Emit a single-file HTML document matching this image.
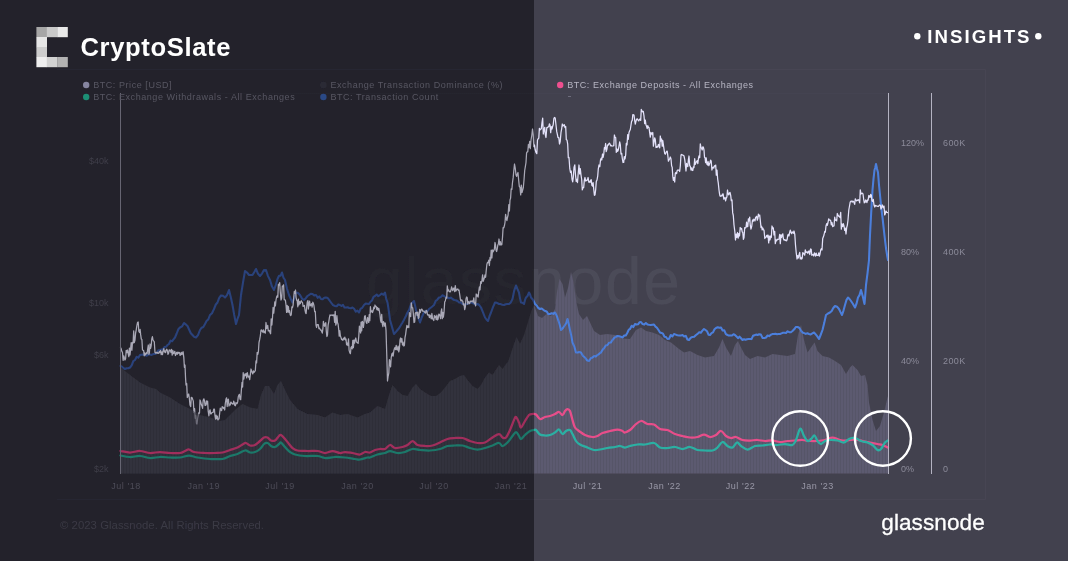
<!DOCTYPE html>
<html lang="en">
<head>
<meta charset="utf-8">
<title>CryptoSlate Insights - Glassnode chart</title>
<style>
html,body{margin:0;padding:0;background:#23222b;}
body{width:1068px;height:561px;overflow:hidden;position:relative;font-family:"Liberation Sans",sans-serif;}
svg{display:block;position:absolute;left:0;top:0;}
text{font-family:"Liberation Sans",sans-serif;}
</style>
</head>
<body>
<svg width="1068" height="561" viewBox="0 0 1068 561">
<defs>

<linearGradient id="g_area" gradientUnits="userSpaceOnUse" x1="0" y1="0" x2="1068" y2="0"><stop offset="0.5" stop-color="#32313c"/><stop offset="0.5" stop-color="#5c5a6f"/></linearGradient>
<linearGradient id="g_price" gradientUnits="userSpaceOnUse" x1="0" y1="0" x2="1068" y2="0"><stop offset="0.5" stop-color="#a9a8b6"/><stop offset="0.5" stop-color="#e4e2fa"/></linearGradient>
<linearGradient id="g_blue" gradientUnits="userSpaceOnUse" x1="0" y1="0" x2="1068" y2="0"><stop offset="0.5" stop-color="#29427c"/><stop offset="0.5" stop-color="#4c7fdc"/></linearGradient>
<linearGradient id="g_pink" gradientUnits="userSpaceOnUse" x1="0" y1="0" x2="1068" y2="0"><stop offset="0.5" stop-color="#a12d5c"/><stop offset="0.5" stop-color="#e84e8a"/></linearGradient>
<linearGradient id="g_teal" gradientUnits="userSpaceOnUse" x1="0" y1="0" x2="1068" y2="0"><stop offset="0.5" stop-color="#1a7869"/><stop offset="0.5" stop-color="#2bb0a3"/></linearGradient>
<linearGradient id="g_axis" gradientUnits="userSpaceOnUse" x1="0" y1="0" x2="1068" y2="0"><stop offset="0.5" stop-color="#666572"/><stop offset="0.5" stop-color="#b4b3c2"/></linearGradient>
<linearGradient id="g_border" gradientUnits="userSpaceOnUse" x1="0" y1="0" x2="1068" y2="0"><stop offset="0.5" stop-color="#272630"/><stop offset="0.5" stop-color="#464552"/></linearGradient>
<linearGradient id="g_wm" gradientUnits="userSpaceOnUse" x1="0" y1="0" x2="1068" y2="0"><stop offset="0.5" stop-color="#26252e"/><stop offset="0.5" stop-color="#4c4b59"/></linearGradient>

<filter id="soft" filterUnits="userSpaceOnUse" x="0" y="0" width="1068" height="561"><feGaussianBlur stdDeviation="0.45"/></filter>
<clipPath id="areaclip"><polygon points="120.5,473.5 120.5,367.5 130,375 140,382.5 150,387.5 156,389 160,392.5 170,397.5 180,404 190,409 200,415 210,417.5 220,421 225,420 235,410 242.5,404 250,407.5 257.5,409 261,395 265,386 269,386 274,394 277.5,385 281,381 285,390 290,400 297.5,409 307.5,414 317.5,415 325,417.5 332.5,412.5 340,415 347.5,414 357.5,417.5 365,414 370,412.5 377.5,406 385,409 389,395 392.5,385 397.5,391 402.5,395 407.5,396 412.5,387.5 416,384 420,389 425,392.5 431,396 436,396 441,392.5 445,387.5 450,381 455,379 460,376 464,375 467.5,380 472.5,386 477.5,389 481,385 485,377.5 489,372.5 492.5,375 495,371 499,365 502.5,369 506,364 508,362 512,350 516.5,337 520,344 524,335 528,322 531.5,310.5 534,305 538,316 542,318 546.5,314 551,316 555,309 557,292 559.5,279 562.5,284 565,297.5 568,288 571,272 573.5,282.5 576.5,303 579,314 583,320 587,316 590.5,323.5 594,331 600,335 607,334 615,335 622,338.5 630,339 636,330 641,327.5 646,331 652.5,332.5 659,335 665,340 671,342.5 679,349 684,352.5 690,351 697.5,355 705,357.5 714,356 719,347.5 722.5,339 726,347.5 731,356 735,345 738,341 741,347.5 745,355 750,359 757.5,356 765,357.5 772.5,354 780,355 787.5,356 795,354 798,335 801,325 804,340 807.5,352.5 811,347.5 814.5,342.5 817.5,351 822.5,356 829,357.5 835,361 841,365 846,374 850,367.5 852.5,365 857.5,370 861,376 865,375 867.5,385 869,402.5 872.5,420 876,431 880,426 884,412.5 887.5,397.5 888.5,395 888.5,473.5"/></clipPath>
<pattern id="bars" patternUnits="userSpaceOnUse" x="120" y="0" width="3" height="10">
<rect x="0" y="0" width="1" height="10" fill="#000000" fill-opacity="0.06"/>
</pattern>
</defs>

<rect x="0" y="0" width="534" height="561" fill="#23222b"/>
<rect x="534" y="0" width="534" height="561" fill="#42414e"/>
<g filter="url(#soft)">
<path d="M57,69.5H985.5V499.5H57" fill="none" stroke="url(#g_border)" stroke-width="1"/>
<line x1="120" y1="93.5" x2="889" y2="93.5" stroke="url(#g_border)" stroke-width="1" stroke-opacity="0.6"/>
<text x="366" y="304" font-size="66" fill="url(#g_wm)" textLength="314" lengthAdjust="spacing">glassnode</text>
<polygon points="120.5,473.5 120.5,367.5 130,375 140,382.5 150,387.5 156,389 160,392.5 170,397.5 180,404 190,409 200,415 210,417.5 220,421 225,420 235,410 242.5,404 250,407.5 257.5,409 261,395 265,386 269,386 274,394 277.5,385 281,381 285,390 290,400 297.5,409 307.5,414 317.5,415 325,417.5 332.5,412.5 340,415 347.5,414 357.5,417.5 365,414 370,412.5 377.5,406 385,409 389,395 392.5,385 397.5,391 402.5,395 407.5,396 412.5,387.5 416,384 420,389 425,392.5 431,396 436,396 441,392.5 445,387.5 450,381 455,379 460,376 464,375 467.5,380 472.5,386 477.5,389 481,385 485,377.5 489,372.5 492.5,375 495,371 499,365 502.5,369 506,364 508,362 512,350 516.5,337 520,344 524,335 528,322 531.5,310.5 534,305 538,316 542,318 546.5,314 551,316 555,309 557,292 559.5,279 562.5,284 565,297.5 568,288 571,272 573.5,282.5 576.5,303 579,314 583,320 587,316 590.5,323.5 594,331 600,335 607,334 615,335 622,338.5 630,339 636,330 641,327.5 646,331 652.5,332.5 659,335 665,340 671,342.5 679,349 684,352.5 690,351 697.5,355 705,357.5 714,356 719,347.5 722.5,339 726,347.5 731,356 735,345 738,341 741,347.5 745,355 750,359 757.5,356 765,357.5 772.5,354 780,355 787.5,356 795,354 798,335 801,325 804,340 807.5,352.5 811,347.5 814.5,342.5 817.5,351 822.5,356 829,357.5 835,361 841,365 846,374 850,367.5 852.5,365 857.5,370 861,376 865,375 867.5,385 869,402.5 872.5,420 876,431 880,426 884,412.5 887.5,397.5 888.5,395 888.5,473.5" fill="url(#g_area)"/>
<polyline points="120.5,366 122,366.6 123.5,368.1 125,369 126.7,368.2 128.3,368.3 130,367.5 131.7,365.4 133.3,361.1 135,360 136.7,356.8 138.3,357.7 140,355 141.7,354.7 143.3,354.6 145,355 146.7,355.7 148.3,354.6 150,354.5 151.7,354.9 153.3,354.1 155,354 156.7,353.1 158.3,350.2 160,350 161.5,349.4 163,349.2 164.5,347.1 166,346.8 167.5,345 169,344 170.5,340.6 172,341.3 173.5,339.3 175,337.5 176.7,333.5 178.3,329.3 180,327.5 182,326.4 184,323 185.8,324.4 187.5,326 189.2,329.7 190.8,333.2 192.5,335 194.2,336.9 196,337.5 198,335.1 200,330 201.7,327.7 203.3,327 205,324 206.7,320.8 208.3,319.4 210,315 212,313.2 214,309 215.8,304.5 217.5,302.5 219.2,297.8 221,295.5 223,295.8 225,297.5 227,295.2 229,290 230.8,297.3 232.5,305 234.2,314.9 236,324 237.5,318.9 239,315 240,305 241,295 243,282.6 245,271 247,272.5 249,275 250.8,275.1 252.5,275 254.2,272.3 256,269 258,273.8 260,276 262,273.6 264,270 265,270.6 266,270 268,276.1 270,280 272,286.6 274,290 275.8,285 277.5,279 279,275.8 280.5,275.8 282,272.5 283.5,277.7 285,280 287,288.8 289,295 290.8,299 292.5,302.5 294.2,298.2 296,292.5 298,293 300,295 302,298.6 304,300 305.8,298.2 307.5,296 309.2,294.9 310.8,293.7 312.5,294 314.2,295.4 316,295 317.7,297.8 319.3,296.4 321,299 322.7,299.3 324.3,297.8 326,297.5 327.7,298 329.3,300.2 331,302.5 333,305.1 335,306 336.7,306.3 338.3,304.5 340,305 341.5,306 343,304.9 344.5,307.5 346,307.5 347.6,307.3 349.2,308 350.9,308.2 352.5,307.5 354.1,308.8 355.8,311.6 357.4,310.6 359,312.5 360.7,308.6 362.3,307.8 364,305 365.7,303.6 367.3,303.7 369,304 370.5,301.7 372,300.4 373.5,296.9 375,296 376.7,294.5 378.3,296.3 380,295 381.7,293.6 383.3,294.8 385,292.5 386.2,298.8 387.5,302.5 388.8,310.9 390,320 392,326.9 394,334 395.8,332.1 397.5,330 399.2,328 400.8,325.3 402.5,322.5 404.2,319.4 405.8,316.2 407.5,312.5 409.2,309.7 411,304 412.5,302.5 414,301 415,305.3 416,310 418,317 420,322.5 422,316.7 424,312.5 425.7,310.8 427.3,311.5 429,309 430.7,307.7 432.3,306.5 434,305 435.7,300.9 437.3,299.7 439,297.5 440.7,297.2 442.3,295.3 444,296 445.8,297.1 447.5,297.5 449.2,298.3 450.8,297.6 452.5,299 454.2,300 455.8,300.2 457.5,301 459.2,302.6 460.8,302.5 462.5,304 464.2,304.3 465.8,304.3 467.5,304 469.2,302.6 470.8,302.4 472.5,303 474.2,303.7 475.8,304.7 477.5,304 479.2,305 481,307.5 483,312.4 485,317.5 486.5,319.5 488,321 489.5,316.2 491,312.5 493,307.1 495,302.5 497,302.8 499,304 500.7,304.1 502.3,304.8 504,305 505.7,304.2 507.3,304.1 509,304 510.8,302.4 512.5,299 514.2,290.7 516,285.5 517.5,289.2 519,292.5 520,298.3 521,302.5 522.5,302.8 524,304 525,299.9 526,297.5 527.5,296 529,292.5 530,294.2 531,297.5 533,299.7 535,304 536.7,305.5 538.3,308 540,309 541.7,308.5 543.3,309.8 545,311 546.7,311.5 548.3,314.1 550,314 551.7,313.3 553.3,313.9 555,312.5 557,316.4 559,322.5 560,325.7 561,330 563,328 565,325 566.2,323.2 567.5,319 568.8,324.3 570,330 571.2,335.4 572.5,342.5 574.2,346.3 576,352.5 577.7,352.5 579.3,352.1 581,352.5 583,356 585,357.5 587,360.3 589,361 590.8,358.2 592.5,357.5 594.2,356.1 595.8,356.6 597.5,355 599.2,353.8 600.8,352.6 602.5,350 604.2,347.8 605.8,345.5 607.5,345 609.2,342.7 610.8,342.6 612.5,340 614.2,337.9 615.8,336.8 617.5,336 619.2,336.3 620.8,336.8 622.5,337.5 624.2,335.5 625.8,335.5 627.5,332.5 628.8,329.6 630,329 631.7,325.7 633.3,327.1 635,324 636.5,324.5 638,324.3 639.5,322.3 641,322 642.6,324.1 644.2,324.6 645.9,323 647.5,324.5 649.1,324.8 650.8,325 652.4,324.7 654,324.5 655.5,326.6 657,327.8 658.5,330 660,332.5 661.5,332.9 663,333.7 664.5,336.7 666,337 667.5,339 669.1,338.7 670.8,335 672.4,336.5 674,334 675.7,334.6 677.4,335.3 679.1,335.4 680.8,335.6 682.5,335 684.1,336.5 685.8,335.9 687.4,339.5 689,340 690.8,337.7 692.5,336.9 694.2,336.8 696,335 697.6,333.9 699.2,332.3 700.8,332.8 702.4,330.6 704,329 705.5,330 707,331.2 708.5,334.7 710,335 711.5,333.2 713,332.4 714.5,329.3 716,328 717.7,327.2 719.3,327.7 721,327.5 722.6,330.4 724.2,330.2 725.9,334.1 727.5,335 729,335.6 730.5,335.4 732,335.5 733.5,334.3 735,335 736.5,336.4 738,338.2 739.5,336.6 741,338.3 742.5,340 744,339.2 745.5,339.7 747,339.2 748.5,339.1 750,339 751.5,339.1 753,335.8 754.5,335.2 756,334.6 757.5,335 759.2,334.3 760.9,334.6 762.6,338 764.3,338.1 766,337.5 767.6,335.5 769.2,336.1 770.8,334.8 772.4,334.1 774,334 775.5,333.8 777,334.2 778.5,334.1 780,334 781.5,333.4 783,332.8 784.5,332.8 786,333 787.6,331.3 789.2,332.2 790.9,332.2 792.5,331 794.2,329.3 795.8,327 797.5,327 799.2,327.8 800.8,330.3 802.5,332.5 804.1,333.1 805.8,333.9 807.4,333.3 809,334 810.7,334.5 812.3,333.4 814,332.5 815.7,334.4 817.3,336.4 819,339 820.8,334.5 822.5,330 824.2,323.1 826,315 828,313.5 830,312.5 831.7,311 833.3,308 835,306 837,306.7 839,309 840.5,312.1 842,315 843.5,310.6 845,305 846.5,299.9 848,297.5 849.5,299 851,301 853,304 855,307.5 856.5,303.7 858,297.5 859.5,295.1 861,290 862.8,296.6 864.5,304 865.2,295.8 866,285 867.5,273.4 869,260 869.5,246.7 870,235 871.2,212.4 872.5,190 873.5,178.8 874.5,170 875.2,168 876,164 877,168.8 878,172.5 879,185 880,195 881.2,207.2 882.5,217.5 883.8,229.3 885,240 886.2,249.5 887.5,257.5 887.8,259 888,260" fill="none" stroke="url(#g_blue)" stroke-width="2.05" stroke-linejoin="round" stroke-linecap="round" stroke-opacity="1"/>
<polyline points="120.5,347.5 121.2,348.8 121.8,351.3 122.5,352.5 123.1,360.3 123.8,355.8 124.4,358.2 125,360 125.6,358.8 126.2,350.3 126.9,352.7 127.5,350 128.1,353.1 128.8,356.6 129.4,348.1 130,355 130.6,348.9 131.2,342.6 131.9,350.3 132.5,342.5 133.1,343 133.7,330.9 134.3,342.7 135,340 135.6,333 136.2,330.1 136.8,326 137.5,322.5 138.2,322 138.8,331.3 139.5,332.5 140.1,329.4 140.7,334.9 141.3,339.1 141.9,339.5 142.5,350 143.1,350.3 143.7,350.7 144.2,355.8 144.8,352.9 145.4,354.9 146,354 146.6,352.6 147.1,353.6 147.7,349.1 148.3,345 148.9,354.3 149.4,352.9 150,344 150.6,348.3 151.2,345.5 151.8,338.8 152.4,336.7 153,340 153.7,341 154.3,341.9 155,352.5 155.6,353 156.2,352.3 156.9,353.2 157.5,352.3 158.1,353.4 158.8,353.2 159.4,351.5 160,352.5 160.6,350.5 161.2,354.7 161.9,351.8 162.5,354.7 163.1,350.9 163.8,348.7 164.4,352 165,351 165.6,352.7 166.2,350 166.8,349.2 167.4,350.7 168,354.3 168.6,353.3 169.2,349.9 169.8,350.8 170.4,350.2 171,352.5 171.6,349.4 172.2,355.1 172.9,350.7 173.5,353.7 174.1,353 174.8,351.3 175.4,355.5 176,354 176.6,352.4 177.2,354.4 177.8,352.1 178.4,353.3 179,352.4 179.5,352.5 180.1,355.3 180.7,354.5 181.3,352.4 181.9,354.7 182.5,353 183.1,351.7 183.8,357.4 184.4,367.3 185,365 185.5,377.1 186,385 186.7,383.5 187.3,397.5 188,395 188.7,394 189.3,398 190,405 190.7,406.6 191.3,397.4 192,397.5 192.7,399.4 193.3,401.1 194,412.5 194.6,408.7 195.2,418.3 195.8,415.5 196.4,423.2 197,424 197.7,418.2 198.3,415.6 199,412.5 199.5,413.1 200,400 200.7,401.9 201.3,404.6 202,406 202.6,408.4 203.2,400.3 203.9,398.8 204.5,401 205.1,405.5 205.8,405.4 206.4,400.9 207,404 207.6,401.1 208.2,411.1 208.9,415.9 209.5,411 210.1,409.8 210.7,413.9 211.3,413.8 211.9,412.7 212.5,412.5 213.1,412.3 213.8,409 214.4,409 215,416 215.6,419.4 216.1,415.2 216.7,418.6 217.3,416.1 217.9,420.2 218.4,419.2 219,419 219.7,412.9 220.3,408.1 221,410 221.6,410.7 222.2,406.7 222.8,407.1 223.4,408.3 224,407.5 224.7,410 225.3,403.5 226,399 226.6,397.9 227.2,406.5 227.8,399.8 228.4,399.1 229,406 229.6,404.1 230.2,405 230.8,402.1 231.3,402.5 231.9,403.5 232.5,404 233.1,404.2 233.7,401.2 234.2,402.4 234.8,405.5 235.4,405.8 236,402.5 236.6,403.7 237.1,403.6 237.7,401.9 238.3,396.6 238.9,395 239.4,394.3 240,399 240.7,399.7 241.3,391 242,382.5 242.6,387 243.2,372.7 243.8,379.2 244.4,375.5 245,374 245.6,375.7 246.1,373.5 246.7,377.9 247.3,372.6 247.9,375.7 248.4,377.1 249,376 249.7,379.7 250.3,374.9 251,369 251.6,371.1 252.2,372.4 252.8,373.9 253.4,370.8 254,372.5 254.7,371.4 255.3,370.8 256,361 256.6,362.9 257.2,352.4 257.8,354.3 258.4,351.7 259,342.5 259.7,339.4 260.3,336 261,330 261.6,329.9 262.2,331.4 262.8,332.1 263.4,329.8 264,332.5 264.7,331.3 265.3,333.2 266,322.5 266.6,328.5 267.1,328.1 267.7,325.4 268.3,331 268.9,330.6 269.4,330.4 270,332.5 270.6,333.8 271.2,318.8 271.9,325 272.5,317.5 273.1,307.5 273.7,313.2 274.2,308.5 274.8,301.8 275.4,305.9 276,300 276.6,297 277.2,295.7 277.8,297.3 278.4,284.3 279,285 279.7,282.7 280.3,292 281,300 281.7,298 282.3,286.2 283,286 283.6,284.8 284.2,299.7 284.8,299.8 285.4,300.3 286,305 286.6,312.4 287.2,305.4 287.8,312 288.4,306.5 289,312.5 289.6,310.7 290.2,314.9 290.8,315.6 291.3,314.3 291.9,306.8 292.5,307.5 293.1,305.2 293.7,297.7 294.3,291.5 294.9,293.4 295.5,290 296.1,297.6 296.7,300.2 297.2,300.7 297.8,306.8 298.4,299.2 299,305 299.6,301.6 300.2,303.7 300.8,301.7 301.3,300.7 301.9,302.1 302.5,302.5 303.1,306.3 303.8,306.2 304.4,305.4 305,310 305.6,312.9 306.1,313.6 306.7,306.9 307.3,301.9 307.9,300.6 308.4,309 309,304 309.6,301.1 310.2,305.9 310.9,305.2 311.5,303.7 312.1,307.2 312.8,302.2 313.4,303.3 314,306 314.7,311.7 315.3,311.5 316,325 316.6,327.5 317.1,324.6 317.7,324.6 318.3,324.6 318.9,328.6 319.4,328.1 320,329 320.6,330.2 321.1,330 321.7,331.6 322.3,333.1 322.9,328.7 323.4,321.4 324,325 324.6,326.3 325.2,323.5 325.8,322.7 326.3,331.2 326.9,336.5 327.5,335 328.1,325.2 328.8,321.6 329.4,317.7 330,315 330.6,315.4 331.1,315 331.7,315.2 332.3,315.5 332.9,314.8 333.4,315.6 334,315 334.6,322.3 335.2,311.3 335.8,325.2 336.3,323.3 336.9,315.7 337.5,322.5 338.1,324.3 338.7,329.4 339.2,336.1 339.8,330.7 340.4,336 341,337.5 341.6,339.6 342.2,339.4 342.9,340.3 343.5,338.1 344.1,339.2 344.8,337.1 345.4,339.9 346,339 346.6,344.8 347.2,343.2 347.9,345.5 348.5,338.9 349.1,350.3 349.8,352.6 350.4,353.6 351,347.5 351.6,346.6 352.2,348.9 352.8,340.3 353.4,347.6 354,340 354.6,343.2 355.2,339.7 355.8,338 356.3,341.2 356.9,342.5 357.5,342.5 358.1,343.4 358.8,336.1 359.4,326.1 360,330 360.6,333 361.1,322.1 361.7,330.8 362.3,321.4 362.9,322.5 363.4,327.4 364,322.5 364.6,316.3 365.2,315.6 365.8,320.2 366.3,322.5 366.9,323.4 367.5,317.5 368.1,319.4 368.7,322.4 369.2,314.6 369.8,320.6 370.4,306.7 371,312 371.8,310.8 372.5,312.5 373.1,310.8 373.8,307.1 374.4,308.7 375,305 375.6,306.7 376.2,306.4 376.9,309.6 377.5,307.5 378.1,310.3 378.8,308.4 379.4,311.3 380,315 380.6,320.6 381.1,322.4 381.7,314.3 382.3,323.9 382.9,326.6 383.4,321.7 384,322.5 384.7,326.1 385.3,323 386,330 386.8,356 387.5,381 388.1,376.3 388.8,373.1 389.4,359.7 390,362 390.6,366.8 391.2,357.7 391.9,353.8 392.5,353 393.1,356.1 393.8,351.2 394.4,348.7 395,347.5 395.6,349.7 396.2,345.3 396.9,349.7 397.5,350 398.1,346.2 398.8,351.9 399.4,348.9 400,340 400.6,338 401.2,342.1 401.9,338.5 402.5,345 403.1,342.1 403.8,346 404.4,345.4 405,337.5 405.6,334.6 406.2,329.8 406.9,325.4 407.5,327.5 408.1,326.1 408.8,327.6 409.4,312.6 410,315 410.7,316.7 411.3,302.8 412,307.5 412.7,307.9 413.3,313.4 414,322.5 414.7,322 415.3,313.2 416,312.5 416.6,312.2 417.2,315.5 417.8,312.1 418.4,318.5 419,317.5 419.7,309.3 420.3,312.7 421,310 421.6,309.2 422.1,309.4 422.7,311.2 423.3,311.1 423.9,311.2 424.4,311.8 425,312.5 425.6,313 426.2,310.4 426.9,311.1 427.5,314.8 428.1,315.2 428.8,314.6 429.4,317.5 430,315 430.6,316.3 431.2,318.8 431.9,313.5 432.5,318.4 433.1,319.4 433.8,320.5 434.4,315.5 435,317.5 435.6,316.2 436.2,319.7 436.9,315.2 437.5,319.8 438.1,319 438.8,314.1 439.4,314.6 440,316 440.6,318.7 441.1,311.6 441.7,308.8 442.3,318.7 442.9,312.4 443.4,317.1 444,312.5 444.7,301.9 445.3,301 446,297.5 446.7,298.1 447.3,285.9 448,291 448.6,289.8 449.2,291.2 449.8,291.8 450.4,291.8 451,290 451.6,286.8 452.2,289.2 452.8,290.7 453.4,288.4 454,288 454.7,291.6 455.3,285.6 456,291 456.6,289.4 457.2,289.3 457.8,288.9 458.4,290.4 459,290 459.8,295.2 460.5,300 461.1,301 461.7,299.8 462.2,300.6 462.8,301.4 463.4,304.8 464,304 464.7,309.7 465.3,307.1 466,299 466.6,297 467.2,297.5 467.8,304.1 468.4,301.5 469,302.5 469.6,303.7 470.2,301.1 470.8,301.6 471.3,301.6 471.9,300.9 472.5,301 473.1,302.2 473.8,297.9 474.4,303.7 475,302.5 475.6,305.8 476.2,294 476.9,296.2 477.5,295 478.1,297.1 478.8,291.2 479.4,287 480,290 480.7,281.6 481.3,283.5 482,280 482.6,274.8 483.2,281.4 483.8,279.6 484.4,277.8 485,275 485.6,277.3 486.2,270.7 486.9,264.2 487.5,262.5 488.1,262.6 488.8,260.1 489.4,265.5 490,257.5 490.6,260.2 491.2,250.1 491.9,258 492.5,250 493.1,251.8 493.8,250.4 494.4,249.1 495,242.5 495.5,244.8 496,250 496.6,251.5 497.2,249.1 497.8,245.2 498.4,243.7 499,239 499.7,245 500.3,241.6 501,245 501.8,244.6 502.5,237.5 503.1,227.7 503.8,227.8 504.4,225.8 505,222.5 505.6,214.4 506.2,218 506.9,220.7 507.5,217.5 508.1,215 508.8,204.7 509.4,211 510,200 510.6,198.1 511.2,188.8 511.9,189.3 512.5,182.5 513.2,177.4 513.8,170.7 514.5,164 515.2,167.8 516,175 516.7,176.4 517.3,174 518,172.5 518.7,180.5 519.3,186.4 520,187.5 520.7,194.9 521.3,185.1 522,192.5 522.7,190.1 523.3,187.7 524,180 524.7,170.5 525.3,166.9 526,162.5 526.6,152.8 527.2,151.9 527.8,151.6 528.4,144.5 529,147.5 529.7,141.3 530.3,148.6 531,140 531.8,135.3 532.5,129 533.2,134.5 533.8,146.7 534.5,145 535.2,149.8 536,152.5 536.8,153.7 537.5,140 538.1,138.9 538.8,138.1 539.4,128.3 540,130 540.7,129 541.3,128.9 542,122.5 542.7,118.2 543.3,134 544,130 544.7,127.4 545.3,134.6 546,137.5 546.8,127.5 547.5,127.5 548.1,126.9 548.8,126.7 549.4,123.9 550,125 550.7,132.6 551.3,126.6 552,129 552.6,126.5 553.2,124.7 553.9,118.4 554.5,117.5 555.2,118 556,125 556.7,131.4 557.3,134.2 558,137.5 558.8,137.5 559.5,144 560.2,141.5 561,132.5 561.7,128.6 562.3,124 563,126 563.7,125.2 564.3,124.7 565,127.5 565.7,126.5 566.3,139.7 567,140 567.7,144.2 568.3,157.6 569,157.5 569.8,168.7 570.5,172.5 571.2,171 572,179 572.7,181.8 573.3,177.3 574,167.5 574.8,164.9 575.5,175 576.2,181.4 576.8,179.3 577.5,182.5 578.2,173.4 579,165 579.7,174 580.3,168.6 581,175 581.7,179.5 582.3,189.9 583,187.5 583.7,187.5 584.3,180.4 585,177.5 585.6,181 586.2,180.7 586.9,180 587.5,180 588.1,177.5 588.8,182.2 589.4,181.5 590,182.5 590.6,180.3 591.2,179.6 591.9,185.4 592.5,186 593.1,182.6 593.8,189.6 594.4,195.3 595,195 595.7,189.3 596.3,181.4 597,180 597.7,176.2 598.3,168.8 599,165 599.8,166.7 600.5,160 601.2,158.2 601.8,160 602.5,154 603.1,157.3 603.8,153.8 604.4,147.6 605,149 605.6,143.5 606.2,151.6 606.9,149.3 607.5,145 608.1,145.3 608.8,143.9 609.4,143.2 610,144 610.6,145.8 611.2,145.4 611.9,146.1 612.5,146 613.1,145.9 613.8,145.6 614.4,135 615,137.5 615.7,137.6 616.3,152.4 617,149 617.7,151.3 618.3,150 619,146 619.7,141.8 620.3,144.7 621,154 621.7,153.4 622.3,158.5 623,162.5 623.7,162.4 624.3,156.6 625,159 625.7,155 626.3,143.3 627,145 627.7,134.6 628.3,139.3 629,132.5 629.7,130.8 630.3,129.5 631,125 631.6,121.1 632.2,120.7 632.8,114.7 633.4,114.7 634,115 634.7,120.7 635.3,124.1 636,121 636.7,119 637.3,118.8 638,120 638.7,120.9 639.3,119.8 640,119 640.7,120.4 641.3,109.4 642,111 642.7,111.8 643.3,111.4 644,116 644.7,123.6 645.3,120 646,125 646.6,126.3 647.2,128.6 647.8,125.6 648.4,127.3 649,127.5 649.7,132.9 650.3,137.1 651,132.5 651.6,133.4 652.2,134.5 652.8,132.5 653.4,146.1 654,142.5 654.7,137.8 655.3,139.6 656,147.5 656.6,147.3 657.2,146.4 657.8,147 658.4,144.4 659,145 659.7,147.8 660.3,136 661,141 661.6,139 662.2,146.3 662.8,140.5 663.4,144.9 664,149 664.7,153.5 665.3,154.2 666,152.5 666.6,151.4 667.2,151.2 667.8,155.3 668.4,161.2 669,160 669.7,158.9 670.3,157 671,159 671.6,165.8 672.2,167.4 672.8,176.4 673.4,180.4 674,177.5 674.7,182 675.3,173.2 676,172.5 676.6,173.6 677.2,170.5 677.8,170 678.4,170 679,170 679.7,171.5 680.3,165.9 681,155 681.6,154.4 682.2,154.9 682.8,155.2 683.4,155.3 684,156 684.7,159.4 685.3,164.3 686,171 686.6,163.4 687.2,166 687.8,166.5 688.4,159.6 689,156 689.7,165.7 690.3,166.3 691,170 691.6,167.8 692.2,170.4 692.8,170.5 693.4,166.8 694,167.5 694.7,158.7 695.3,164.4 696,162.5 696.6,161.7 697.2,160.6 697.8,163.6 698.4,158.9 699,156 699.7,157.7 700.3,143.8 701,147.5 701.6,148.2 702.2,150 702.8,146.8 703.4,147.3 704,150 704.5,157.3 705,157.5 705.6,162.6 706.2,157.9 706.9,164.2 707.5,165 708.1,161.5 708.8,165.7 709.4,164.3 710,162.5 710.6,160.2 711.2,161.1 711.9,170 712.5,167.5 713.1,167.2 713.8,168.2 714.4,165.8 715,166 715.7,165.1 716.3,175.2 717,170 717.7,179.3 718.3,183.2 719,190 719.5,193.6 720,196 720.6,196.3 721.2,195.7 721.9,196 722.5,194 723.1,193.9 723.8,199.1 724.4,198.4 725,197.5 725.6,200.9 726.2,198.3 726.9,196.9 727.5,190 728.1,193.7 728.8,194.9 729.4,193 730,192.5 730.7,195.4 731.3,200.7 732,200 732.7,212.9 733.3,215.5 734,225 734.8,231.3 735.5,240 736.2,234.1 736.8,237.3 737.5,232.5 738.2,238.1 738.8,233.7 739.5,236 740.2,227.5 741,229 741.6,228.4 742.2,231.8 742.8,232.5 743.4,239.4 744,237.5 744.7,227.6 745.3,228 746,227.5 746.6,222.1 747.2,226.5 747.8,226.5 748.4,218.9 749,221 749.7,217.1 750.3,225.7 751,229 751.8,225.8 752.5,220 753.1,221.4 753.8,219.2 754.4,219.7 755,221 755.6,217.3 756.1,216.9 756.7,216.3 757.3,220.2 757.9,218.3 758.4,214.1 759,216 759.7,215.1 760.3,220.4 761,227.5 761.6,226.3 762.2,229.9 762.8,228 763.4,229.8 764,230 764.8,238.5 765.5,237.5 766.1,236.8 766.8,235.3 767.4,237.2 768,235 768.7,242.9 769.3,236 770,240 770.7,236 771.3,237.5 772,226 772.7,228.7 773.3,227.8 774,235 774.7,231.3 775.3,243.7 776,240 776.6,240.8 777.2,239.2 777.8,239.5 778.4,239.3 779,239 779.7,234.3 780.3,243.7 781,235 781.6,237.4 782.2,234.7 782.8,233.8 783.4,238.8 784,240 784.7,239.7 785.3,240.6 786,240 786.6,240.8 787.2,239.2 787.8,235.1 788.4,234.3 789,236 789.7,232.2 790.3,230.1 791,232.5 791.6,233.7 792.2,232 792.8,232.1 793.4,233.3 794,231 794.8,234.5 795.5,245 796.2,252.5 797,259 797.7,255.6 798.3,258 799,255 799.7,252.3 800.3,258.9 801,257.5 801.6,259.1 802.2,258.2 802.8,252.6 803.4,253.2 804,254 804.7,255.2 805.3,249.8 806,252.5 806.6,252.1 807.2,251.8 807.8,253.4 808.4,251.6 809,251 809.8,254.5 810.5,249 811.2,249.4 811.8,255.3 812.5,255 813.1,254.5 813.8,256 814.4,252.8 815,254 815.6,256.2 816.2,253.1 816.9,255.4 817.5,255.5 818.1,255.3 818.8,252.8 819.4,256.2 820,254 820.7,250 821.3,248.7 822,250 822.7,238.6 823.3,237.1 824,235 824.7,231.5 825.3,232.2 826,226 826.7,223.6 827.3,225.4 828,222.5 828.7,218.9 829.3,220.1 830,220 830.7,220.6 831.3,224.9 832,222.5 832.7,226.6 833.3,226.2 834,226 834.7,217.2 835.3,220.3 836,220 836.7,220.9 837.3,213.5 838,215 838.7,216.3 839.3,216.4 840,217.5 840.7,212.3 841.3,229.2 842,224 842.7,226.5 843.3,223.6 844,226 844.7,230.4 845.3,228.2 846,234 846.7,227.5 847.3,225.3 848,220 848.8,210 849.5,206 850.2,202.1 851,201 851.6,201 852.2,202.1 852.8,201.2 853.4,201.3 854,202.5 854.7,204.4 855.3,198.8 856,200 856.6,200.9 857.2,200.1 857.8,200.4 858.4,199.7 859,200 859.7,202.9 860.3,189.9 861,194 861.7,193.3 862.3,193.2 863,194 863.7,199.5 864.3,202.8 865,202.5 865.6,200 866.2,200.7 866.9,202.6 867.5,200 868.1,200.1 868.8,195.5 869.4,195.9 870,197.5 870.7,194.4 871.3,195.1 872,201 872.7,201.4 873.3,199.4 874,205 874.7,207 875.3,205.4 876,206 876.6,205.9 877.2,206.2 877.8,206.4 878.4,206.5 879,205.5 879.7,205 880.3,205.3 881,209 881.6,207.9 882.2,204.9 882.8,206.6 883.4,207.8 884,206 884.7,214.9 885.3,213.7 886,211 886.7,212.3 887.3,212.5 888,212.5" fill="none" stroke="url(#g_price)" stroke-width="1.25" stroke-linejoin="round" stroke-linecap="round" stroke-opacity="1"/>
<rect x="120" y="340" width="414" height="134" fill="#32313c" fill-opacity="0.5" clip-path="url(#areaclip)"/>
<rect x="120" y="260" width="769" height="214" fill="url(#bars)" clip-path="url(#areaclip)"/>
<path d="M120.5,451C122.1,451.2 126.8,452.5 130,452.5C133.2,452.5 136.7,450.9 140,451C143.3,451.1 146.7,452.8 150,453C153.3,453.2 156.7,452.0 160,452C163.3,452.0 166.7,452.8 170,453C173.3,453.2 177.5,453.3 180,453C182.5,452.7 183.5,451.6 185,451C186.5,450.4 187.5,449.3 189,449.5C190.5,449.7 191.3,451.4 194,452C196.7,452.6 201.5,452.8 205,453C208.5,453.2 212.1,453.1 215,453C217.9,452.9 220.0,453.0 222.5,452.5C225.0,452.0 227.5,450.8 230,450C232.5,449.2 235.4,448.4 237.5,447.5C239.6,446.6 241.1,445.2 242.5,444.5C243.9,443.8 244.8,442.8 246,443C247.2,443.2 248.5,445.2 250,445.5C251.5,445.8 253.3,445.8 255,445C256.7,444.2 258.5,442.2 260,441C261.5,439.8 262.8,438.1 264,437.5C265.2,436.9 266.3,437.0 267.5,437.5C268.7,438.0 269.8,440.0 271,440.5C272.2,441.0 273.7,441.2 275,440.5C276.3,439.8 278.0,436.9 279,436C280.0,435.1 280.0,434.5 281,435C282.0,435.5 283.7,437.5 285,439C286.3,440.5 287.8,442.5 289,444C290.2,445.5 291.1,446.9 292.5,448C293.9,449.1 295.0,450.0 297.5,450.5C300.0,451.0 304.2,450.9 307.5,451C310.8,451.1 314.6,450.7 317.5,451C320.4,451.3 322.5,453.0 325,453C327.5,453.0 330.0,451.0 332.5,451C335.0,451.0 337.9,452.8 340,453C342.1,453.2 342.9,452.0 345,452C347.1,452.0 350.0,452.6 352.5,453C355.0,453.4 357.9,454.7 360,454.5C362.1,454.3 363.3,452.3 365,452C366.7,451.7 368.3,452.8 370,452.5C371.7,452.2 373.3,450.6 375,450C376.7,449.4 378.3,449.2 380,449C381.7,448.8 383.3,449.7 385,449C386.7,448.3 388.3,445.2 390,445C391.7,444.8 392.9,447.7 395,448C397.1,448.3 400.4,447.5 402.5,447C404.6,446.5 405.8,446.0 407.5,445C409.2,444.0 410.8,441.0 412.5,441C414.2,441.0 415.4,444.2 417.5,445C419.6,445.8 422.5,445.9 425,446C427.5,446.1 430.0,446.1 432.5,445.5C435.0,444.9 437.5,443.6 440,442.5C442.5,441.4 445.0,439.8 447.5,439C450.0,438.2 452.5,438.2 455,438C457.5,437.8 460.0,437.5 462.5,438C465.0,438.5 467.5,440.2 470,441C472.5,441.8 475.0,442.8 477.5,443C480.0,443.2 482.5,443.4 485,442.5C487.5,441.6 490.2,438.9 492.5,437.5C494.8,436.1 497.3,434.0 499,434C500.7,434.0 501.3,436.9 502.5,437.5C503.7,438.1 504.8,438.8 506,437.5C507.2,436.2 508.7,432.9 510,430C511.3,427.1 513.0,422.2 514,420C515.0,417.8 515.2,416.6 516,417C516.8,417.4 518.2,420.8 519,422.5C519.8,424.2 520.0,427.8 521,427.5C522.0,427.2 523.7,423.1 525,421C526.3,418.9 527.8,416.2 529,415C530.2,413.8 531.3,414.1 532.5,414C533.7,413.9 534.8,413.7 536,414.5C537.2,415.3 538.5,418.6 540,419C541.5,419.4 543.3,417.5 545,417C546.7,416.5 548.3,416.5 550,416C551.7,415.5 553.5,414.7 555,414C556.5,413.3 557.8,411.8 559,412C560.2,412.2 561.5,415.2 562.5,415C563.5,414.8 564.2,412.0 565,411C565.8,410.0 566.7,409.0 567.5,409C568.3,409.0 569.2,409.2 570,411C570.8,412.8 571.7,417.2 572.5,420C573.3,422.8 573.9,425.7 575,427.5C576.1,429.3 577.3,429.8 579,431C580.7,432.2 582.8,434.0 585,435C587.2,436.0 590.4,436.8 592.5,437C594.6,437.2 595.8,436.7 597.5,436C599.2,435.3 600.4,433.8 602.5,433C604.6,432.2 607.5,431.6 610,431C612.5,430.4 615.4,429.5 617.5,429.5C619.6,429.5 621.2,430.5 622.5,431C623.8,431.5 623.8,432.7 625,432.5C626.2,432.3 628.3,431.2 630,430C631.7,428.8 633.2,426.5 635,425C636.8,423.5 638.9,421.2 641,421C643.1,420.8 645.3,423.4 647.5,424C649.7,424.6 651.9,423.7 654,424.5C656.1,425.3 657.8,428.1 660,429C662.2,429.9 665.0,429.2 667.5,430C670.0,430.8 672.5,433.0 675,434C677.5,435.0 680.0,435.4 682.5,436C685.0,436.6 687.5,437.3 690,437.5C692.5,437.7 695.2,437.5 697.5,437C699.8,436.5 701.9,434.5 704,434.5C706.1,434.5 708.0,436.9 710,437C712.0,437.1 714.2,436.0 716,435C717.8,434.0 719.3,430.8 721,431C722.7,431.2 724.3,434.8 726,436C727.7,437.2 729.3,437.8 731,438C732.7,438.2 734.1,436.7 736,437C737.9,437.3 740.2,439.4 742.5,440C744.8,440.6 747.5,440.5 750,440.5C752.5,440.5 755.0,439.9 757.5,440C760.0,440.1 762.5,440.9 765,441C767.5,441.1 770.0,440.3 772.5,440.5C775.0,440.7 777.5,441.9 780,442C782.5,442.1 785.0,441.2 787.5,441C790.0,440.8 792.5,440.7 795,440.5C797.5,440.3 800.0,439.9 802.5,440C805.0,440.1 807.5,440.8 810,441C812.5,441.2 815.0,441.2 817.5,441C820.0,440.8 822.5,440.6 825,440C827.5,439.4 830.0,437.5 832.5,437.5C835.0,437.5 837.5,439.5 840,440C842.5,440.5 845.0,440.6 847.5,440.5C850.0,440.4 852.5,439.4 855,439.5C857.5,439.6 860.0,440.5 862.5,441C865.0,441.5 867.5,442.0 870,442.5C872.5,443.0 875.4,443.6 877.5,444C879.6,444.4 880.8,444.4 882.5,445C884.2,445.6 887.1,447.1 888,447.5" fill="none" stroke="url(#g_pink)" stroke-width="2.25" stroke-linejoin="round" stroke-linecap="round" stroke-opacity="1"/>
<path d="M120.5,455.5C122.1,455.8 126.8,456.9 130,457C133.2,457.1 136.7,455.8 140,456C143.3,456.2 146.7,457.8 150,458C153.3,458.2 156.7,457.1 160,457C163.3,456.9 166.7,457.4 170,457.5C173.3,457.6 176.8,457.8 180,457.5C183.2,457.2 186.1,455.5 189,455.5C191.9,455.5 194.0,456.9 197.5,457.5C201.0,458.1 205.8,458.8 210,459C214.2,459.2 219.2,459.5 222.5,459C225.8,458.5 227.5,456.8 230,456C232.5,455.2 235.0,454.9 237.5,454C240.0,453.1 242.9,450.8 245,450.5C247.1,450.2 248.3,452.2 250,452.5C251.7,452.8 253.3,452.6 255,452C256.7,451.4 258.5,450.3 260,449C261.5,447.7 262.8,445.0 264,444C265.2,443.0 266.3,442.7 267.5,443C268.7,443.3 269.8,445.3 271,446C272.2,446.7 273.7,447.3 275,447C276.3,446.7 278.0,444.8 279,444C280.0,443.2 280.0,442.0 281,442.5C282.0,443.0 283.5,445.4 285,447C286.5,448.6 288.3,450.8 290,452C291.7,453.2 292.5,453.8 295,454.5C297.5,455.2 301.2,455.8 305,456C308.8,456.2 314.2,455.7 317.5,456C320.8,456.3 322.1,457.8 325,458C327.9,458.2 331.7,457.1 335,457C338.3,456.9 341.7,457.2 345,457.5C348.3,457.8 352.5,458.7 355,459C357.5,459.3 357.9,459.8 360,459.5C362.1,459.2 365.8,457.8 367.5,457.5C369.2,457.2 368.3,458.0 370,457.5C371.7,457.0 375.0,455.2 377.5,454.5C380.0,453.8 382.9,453.6 385,453C387.1,452.4 387.9,451.0 390,451C392.1,451.0 395.0,452.8 397.5,453C400.0,453.2 402.5,452.7 405,452C407.5,451.3 410.0,449.3 412.5,449C415.0,448.7 417.1,449.8 420,450C422.9,450.2 426.7,450.7 430,450.5C433.3,450.3 437.1,449.8 440,449C442.9,448.2 445.0,446.6 447.5,446C450.0,445.4 452.5,445.6 455,445.5C457.5,445.4 460.0,445.1 462.5,445.5C465.0,445.9 467.5,447.3 470,448C472.5,448.7 475.0,449.5 477.5,449.5C480.0,449.5 482.5,448.7 485,448C487.5,447.3 490.2,446.3 492.5,445.5C494.8,444.7 497.3,442.9 499,443C500.7,443.1 501.1,446.1 502.5,446C503.9,445.9 505.8,444.2 507.5,442.5C509.2,440.8 511.1,437.8 512.5,436C513.9,434.2 514.9,432.0 516,432C517.1,432.0 518.2,434.8 519,436C519.8,437.2 520.0,439.2 521,439C522.0,438.8 523.5,436.3 525,435C526.5,433.7 528.5,431.8 530,431C531.5,430.2 533.0,430.2 534,430C535.0,429.8 535.0,429.2 536,430C537.0,430.8 538.5,433.6 540,434.5C541.5,435.4 543.3,435.4 545,435.5C546.7,435.6 548.3,435.5 550,435C551.7,434.5 553.5,433.4 555,432.5C556.5,431.6 557.8,429.2 559,429.5C560.2,429.8 561.3,433.8 562.5,434C563.7,434.2 564.8,431.7 566,431C567.2,430.3 568.9,429.5 570,430C571.1,430.5 571.5,432.2 572.5,434C573.5,435.8 574.8,439.2 576,441C577.2,442.8 578.1,443.4 580,444.5C581.9,445.6 585.2,446.6 587.5,447.5C589.8,448.4 591.9,449.7 594,450C596.1,450.3 597.8,449.8 600,449.5C602.2,449.2 605.0,448.4 607.5,448C610.0,447.6 612.9,447.3 615,447C617.1,446.7 618.3,445.9 620,446C621.7,446.1 623.3,447.5 625,447.5C626.7,447.5 627.9,446.5 630,446C632.1,445.5 635.0,444.8 637.5,444.5C640.0,444.2 642.2,444.8 645,444.5C647.8,444.2 651.5,442.5 654,443C656.5,443.5 657.8,446.7 660,447.5C662.2,448.3 665.0,448.1 667.5,448C670.0,447.9 672.5,446.8 675,447C677.5,447.2 680.0,449.0 682.5,449C685.0,449.0 687.5,446.8 690,447C692.5,447.2 695.0,449.4 697.5,450C700.0,450.6 702.5,450.4 705,450.5C707.5,450.6 710.4,451.0 712.5,450.5C714.6,450.0 715.8,448.9 717.5,447.5C719.2,446.1 720.8,442.2 722.5,442C724.2,441.8 725.8,445.1 727.5,446C729.2,446.9 730.9,448.1 732.5,447.5C734.1,446.9 735.6,442.8 737,442.5C738.4,442.2 739.2,444.8 741,446C742.8,447.2 745.2,449.5 747.5,449.5C749.8,449.5 752.5,446.7 755,446C757.5,445.3 760.0,445.8 762.5,445.5C765.0,445.2 767.5,444.6 770,444.5C772.5,444.4 775.0,445.1 777.5,445C780.0,444.9 782.5,444.0 785,444C787.5,444.0 790.7,445.7 792.5,445C794.3,444.3 794.9,442.3 796,440C797.1,437.7 798.2,432.8 799,431C799.8,429.2 800.2,428.2 801,429C801.8,429.8 802.9,434.0 804,436C805.1,438.0 806.3,440.5 807.5,441C808.7,441.5 809.8,439.9 811,439C812.2,438.1 813.4,435.2 814.5,435.5C815.6,435.8 816.4,439.6 817.5,441C818.6,442.4 819.8,444.0 821,444C822.2,444.0 823.5,441.7 825,441C826.5,440.3 827.9,440.1 830,440C832.1,439.9 835.2,440.1 837.5,440.5C839.8,440.9 842.1,442.8 844,442.5C845.9,442.2 847.2,439.8 849,439C850.8,438.2 853.0,437.7 855,438C857.0,438.3 858.9,440.2 861,441C863.1,441.8 865.6,441.8 867.5,442.5C869.4,443.2 870.8,443.8 872.5,445C874.2,446.2 876.1,449.3 877.5,450C878.9,450.7 879.8,450.2 881,449C882.2,447.8 883.8,443.9 885,442.5C886.2,441.1 887.5,440.8 888,440.5" fill="none" stroke="url(#g_teal)" stroke-width="2.25" stroke-linejoin="round" stroke-linecap="round" stroke-opacity="1"/>
<line x1="120.5" y1="93" x2="120.5" y2="474" stroke="url(#g_axis)" stroke-width="1"/>
<line x1="888.5" y1="93" x2="888.5" y2="474" stroke="url(#g_axis)" stroke-width="1"/>
<line x1="931.5" y1="93" x2="931.5" y2="474" stroke="url(#g_axis)" stroke-width="1"/>
<ellipse cx="800.2" cy="438.5" rx="27.8" ry="27.2" fill="none" stroke="#ffffff" stroke-width="2.4"/>
<ellipse cx="882.9" cy="438.5" rx="28" ry="27.2" fill="none" stroke="#ffffff" stroke-width="2.4"/>
<text x="108.5" y="164.3" font-size="9" text-anchor="end" fill="#3f3e49">$40k</text>
<text x="108.5" y="306.3" font-size="9" text-anchor="end" fill="#3f3e49">$10k</text>
<text x="108.5" y="358.3" font-size="9" text-anchor="end" fill="#3f3e49">$6k</text>
<text x="108.5" y="472.3" font-size="9" text-anchor="end" fill="#3f3e49">$2k</text>
<text x="901" y="146.3" font-size="9" fill="#8b8a99">120%</text>
<text x="943" y="146.3" font-size="9" letter-spacing="0.4" fill="#8b8a99">600K</text>
<text x="901" y="255.3" font-size="9" fill="#8b8a99">80%</text>
<text x="943" y="255.3" font-size="9" letter-spacing="0.4" fill="#8b8a99">400K</text>
<text x="901" y="363.8" font-size="9" fill="#8b8a99">40%</text>
<text x="943" y="363.8" font-size="9" letter-spacing="0.4" fill="#8b8a99">200K</text>
<text x="901" y="472.3" font-size="9" fill="#8b8a99">0%</text>
<text x="943" y="472.3" font-size="9" letter-spacing="0.4" fill="#8b8a99">0</text>
<text x="126" y="489.3" font-size="9" letter-spacing="0.55" text-anchor="middle" fill="#4c4b57">Jul '18</text>
<text x="203.75" y="489.3" font-size="9" letter-spacing="0.55" text-anchor="middle" fill="#4c4b57">Jan '19</text>
<text x="280" y="489.3" font-size="9" letter-spacing="0.55" text-anchor="middle" fill="#4c4b57">Jul '19</text>
<text x="357.5" y="489.3" font-size="9" letter-spacing="0.55" text-anchor="middle" fill="#4c4b57">Jan '20</text>
<text x="434" y="489.3" font-size="9" letter-spacing="0.55" text-anchor="middle" fill="#4c4b57">Jul '20</text>
<text x="511" y="489.3" font-size="9" letter-spacing="0.55" text-anchor="middle" fill="#4c4b57">Jan '21</text>
<text x="587.5" y="489.3" font-size="9" letter-spacing="0.55" text-anchor="middle" fill="#9897a6">Jul '21</text>
<text x="664.5" y="489.3" font-size="9" letter-spacing="0.55" text-anchor="middle" fill="#9897a6">Jan '22</text>
<text x="740.5" y="489.3" font-size="9" letter-spacing="0.55" text-anchor="middle" fill="#9897a6">Jul '22</text>
<text x="817.5" y="489.3" font-size="9" letter-spacing="0.55" text-anchor="middle" fill="#9897a6">Jan '23</text>
<circle cx="86.2" cy="85" r="3.2" fill="#8685a0"/><text x="93.2" y="88.3" font-size="9" letter-spacing="0.56" fill="#575662">BTC: Price [USD]</text>
<circle cx="86.2" cy="97" r="3.2" fill="#1d8f74"/><text x="93.2" y="100.3" font-size="9" letter-spacing="0.56" fill="#575662">BTC: Exchange Withdrawals - All Exchanges</text>
<circle cx="323.4" cy="85" r="3.2" fill="#2c2b35"/><text x="330.4" y="88.3" font-size="9" letter-spacing="0.56" fill="#575662">Exchange Transaction Dominance (%)</text>
<circle cx="323.4" cy="97" r="3.2" fill="#2b4885"/><text x="330.4" y="100.3" font-size="9" letter-spacing="0.56" fill="#575662">BTC: Transaction Count</text>
<circle cx="560.2" cy="85" r="3.2" fill="#ee4f8f"/><text x="567.2" y="88.3" font-size="9" letter-spacing="0.56" fill="#b6b5c3">BTC: Exchange Deposits - All Exchanges</text>
<line x1="568" y1="96.5" x2="571" y2="96.5" stroke="#6d6c7b" stroke-width="1"/>
<text x="60" y="528.5" font-size="11.3" letter-spacing="0.06" fill="#3b3a45">© 2023 Glassnode. All Rights Reserved.</text>
<text x="881.3" y="530" font-size="22.6" fill="#ffffff" stroke="#ffffff" stroke-width="0.28" letter-spacing="0.05">glassnode</text>
<rect x="36.4" y="27" width="10.6" height="10.2" fill="#a6a6a6"/>
<rect x="46.8" y="27" width="10.6" height="10.2" fill="#c9c9c9"/>
<rect x="57.2" y="27" width="10.6" height="10.2" fill="#e9e9e9"/>
<rect x="36.4" y="37" width="10.6" height="10.2" fill="#e6e6e6"/>
<rect x="36.4" y="47" width="10.6" height="10.2" fill="#cdcdcd"/>
<rect x="36.4" y="57" width="10.6" height="10.2" fill="#eeeeee"/>
<rect x="46.8" y="57" width="10.6" height="10.2" fill="#d2d2d2"/>
<rect x="57.2" y="57" width="10.6" height="10.2" fill="#b3b3b3"/>
<text x="80.4" y="56.4" font-size="25.6" font-weight="bold" fill="#ffffff" letter-spacing="0.65">CryptoSlate</text>
<circle cx="917.3" cy="36.3" r="3.2" fill="#ffffff"/>
<circle cx="1038.3" cy="36.3" r="3.2" fill="#ffffff"/>
<text x="927.3" y="43.3" font-size="18.6" font-weight="bold" fill="#ffffff" letter-spacing="2.05">INSIGHTS</text>
</g>
</svg>
</body>
</html>
